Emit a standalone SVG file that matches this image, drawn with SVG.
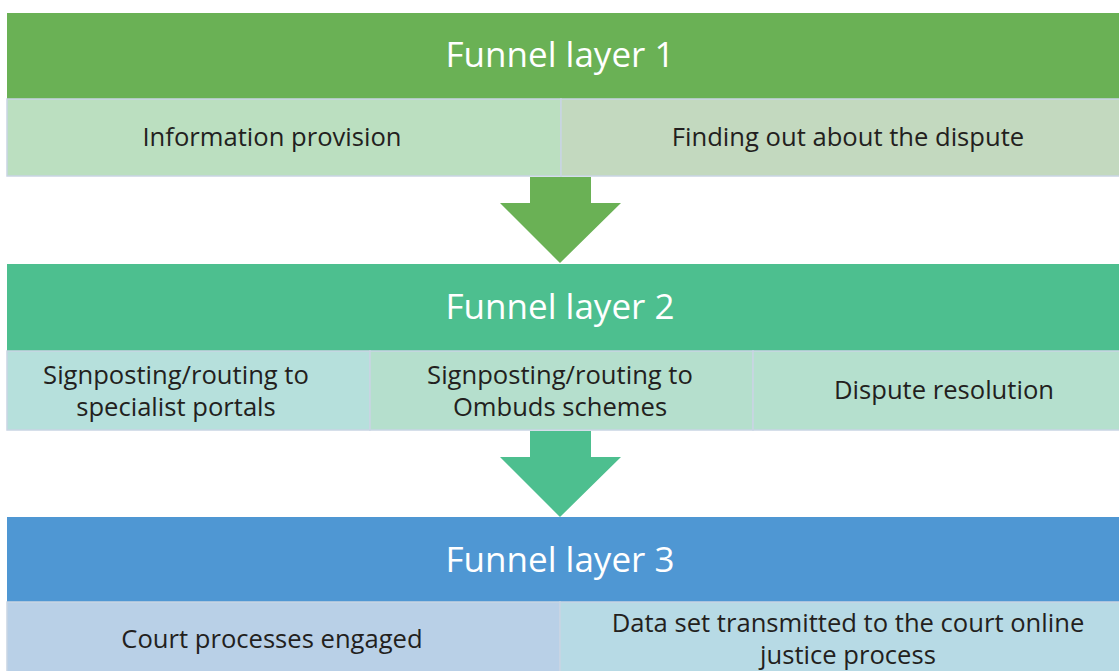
<svg xmlns="http://www.w3.org/2000/svg" width="1119" height="671" viewBox="0 0 1119 671">
  <style>
    .hdr { font-family: "Open Sans", "Liberation Sans", sans-serif; font-size: 35px; fill: #ffffff; text-anchor: middle; }
    .lbl { font-family: "Open Sans", "Liberation Sans", sans-serif; font-size: 25.6px; fill: #231f20; text-anchor: middle; }
    .cell { stroke: #c9d5e4; stroke-width: 1.5; }
  </style>
  <rect width="1119" height="671" fill="#ffffff"/>

  <!-- Layer 1 -->
  <g id="layer1">
    <rect x="7" y="13" width="1113" height="86" fill="#6ab155"/>
    <text class="hdr" x="560" y="67">Funnel layer 1</text>
  </g>
  <g id="info-provision">
    <rect class="cell" x="7" y="99" width="554" height="77" fill="#bbdfc0"/>
    <text class="lbl" x="272" y="146">Information provision</text>
  </g>
  <g id="finding-out">
    <rect class="cell" x="561" y="99" width="559" height="77" fill="#c3d9bf"/>
    <text class="lbl" x="848" y="146">Finding out about the dispute</text>
  </g>

  <!-- Layer 2 -->
  <g id="layer2">
    <rect x="7" y="264" width="1113" height="87" fill="#4dbf8f"/>
    <text class="hdr" x="560" y="319">Funnel layer 2</text>
  </g>
  <g id="specialist-portals">
    <rect class="cell" x="7" y="351" width="363" height="79" fill="#b6e0dc"/>
    <text class="lbl" x="176" y="384">Signposting/routing to<tspan x="176" dy="32">specialist portals</tspan></text>
  </g>
  <g id="ombuds-schemes">
    <rect class="cell" x="370" y="351" width="383" height="79" fill="#b5dfcd"/>
    <text class="lbl" x="560" y="384">Signposting/routing to<tspan x="560" dy="32">Ombuds schemes</tspan></text>
  </g>
  <g id="dispute-resolution">
    <rect class="cell" x="753" y="351" width="367" height="79" fill="#b5e0ce"/>
    <text class="lbl" x="944" y="399">Dispute resolution</text>
  </g>

  <!-- Layer 3 -->
  <g id="layer3">
    <rect x="7" y="517" width="1113" height="85" fill="#4f97d3"/>
    <text class="hdr" x="560" y="572">Funnel layer 3</text>
  </g>
  <g id="court-processes">
    <rect class="cell" x="7" y="602" width="553" height="75" fill="#b9d0e7"/>
    <text class="lbl" x="272" y="648">Court processes engaged</text>
  </g>
  <g id="data-set">
    <rect class="cell" x="560" y="602" width="560" height="75" fill="#b7dae5"/>
    <text class="lbl" x="848" y="632">Data set transmitted to the court online<tspan x="848" dy="32">justice process</tspan></text>
  </g>

  <!-- Connectors: block arrows between funnel layers -->
  <g id="connectors">
    <polygon points="530,177 591,177 591,203 621,203 560,263 500,203 530,203" fill="#6ab155"/>
    <polygon points="530,431 591,431 591,457 621,457 560,517 500,457 530,457" fill="#4dbf8f"/>
  </g>
</svg>
